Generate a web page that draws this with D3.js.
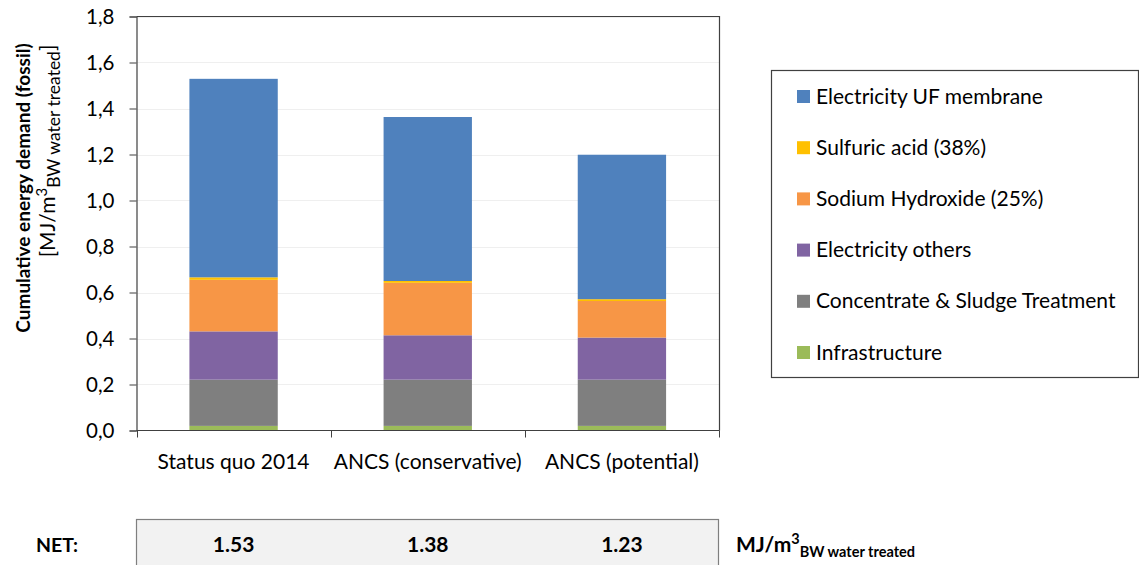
<!DOCTYPE html>
<html>
<head>
<meta charset="utf-8">
<script src="https://cdn.jsdelivr.net/npm/d3@7"></script>
<style>
  html, body { margin: 0; padding: 0; background: #fff; }
  svg { display: block; }
  text { font-family: Lato, "Open Sans", sans-serif; fill: #000; }
</style>
</head>
<body>
<svg id="chart" width="1139" height="565"></svg>
<script>
// ---- data ----
const categories = ["Status quo 2014", "ANCS (conservative)", "ANCS (potential)"];
const seriesNames = ["Infrastructure", "Concentrate & Sludge Treatment", "Electricity others",
                     "Sodium Hydroxide (25%)", "Sulfuric acid (38%)", "Electricity UF membrane"];
const infrastructure   = [0.020, 0.020, 0.020];
const concentrate      = [0.201, 0.201, 0.201];
const electricityOther = [0.210, 0.193, 0.183];
const sodiumHydroxide  = [0.224, 0.228, 0.159];
const sulfuricAcid     = [0.011, 0.008, 0.008];
const electricityUF    = [0.863, 0.713, 0.628];
const netValues = ["1.53", "1.38", "1.23"];
const yTicks = [0, 0.2, 0.4, 0.6, 0.8, 1.0, 1.2, 1.4, 1.6, 1.8];
const colors = ["#9BBB59", "#7F7F7F", "#8064A2", "#F79646", "#FFC000", "#4F81BD"];

const seriesValues = [infrastructure, concentrate, electricityOther, sodiumHydroxide, sulfuricAcid, electricityUF];
const table = categories.map((c, i) => {
  const row = { category: c };
  seriesNames.forEach((s, j) => row[s] = seriesValues[j][i]);
  return row;
});

const svg = d3.select("#chart");
const x = d3.scaleBand().domain(categories).range([136.5, 719]).paddingInner(0.545).paddingOuter(0.2725);
const xSlot = d3.scaleBand().domain(categories).range([136.5, 719]);
const y = d3.scaleLinear().domain([0, 1.8]).range([430.5, 16.5]);
const fmt = d3.formatLocale({ decimal: ",", thousands: ".", grouping: [3], currency: ["", ""] }).format(".1f");

// gridlines
svg.append("g").selectAll("line").data(yTicks.slice(1)).join("line")
  .attr("x1", 136.5).attr("x2", 719).attr("y1", d => Math.round(y(d)) + 0.5).attr("y2", d => Math.round(y(d)) + 0.5)
  .attr("stroke", "#efefef").attr("stroke-width", 1);

// bars
const stack = d3.stack().keys(seriesNames)(table);
svg.append("g").selectAll("g").data(stack).join("g")
  .attr("fill", (d, i) => colors[i])
  .selectAll("rect").data(d => d).join("rect")
  .attr("x", d => x(d.data.category))
  .attr("width", x.bandwidth())
  .attr("y", d => y(d[1]))
  .attr("height", d => y(d[0]) - y(d[1]));

// plot border (top & right)
svg.append("path").attr("d", `M136.5,16.5H719.5V430.5`).attr("fill", "none").attr("stroke", "#404040").attr("stroke-width", 1.2);

// y axis
const yAxis = svg.append("g").attr("transform", "translate(136.5,0)")
  .call(d3.axisLeft(y).tickValues(yTicks).tickFormat(fmt).tickSize(7).tickPadding(15));
yAxis.select(".domain").attr("stroke", "#404040").attr("stroke-width", 1.2);
yAxis.selectAll(".tick line").attr("stroke", "#404040");
yAxis.selectAll(".tick text").style("font-family", "Lato").style("font-size", "20.5px").attr("fill", "#000");

// x axis: ticks at slot boundaries
const xAxisG = svg.append("g");
xAxisG.append("line").attr("x1", 136.5).attr("x2", 719.5).attr("y1", 430.5).attr("y2", 430.5)
  .attr("stroke", "#404040").attr("stroke-width", 1.2);
const boundaries = categories.map(c => xSlot(c)).concat([xSlot.range()[1]]);
xAxisG.selectAll("line.tk").data(boundaries).join("line").attr("class", "tk")
  .attr("x1", d => Math.round(d) + 0.5).attr("x2", d => Math.round(d) + 0.5)
  .attr("y1", 430.5).attr("y2", 437.5).attr("stroke", "#404040");
xAxisG.selectAll("text").data(categories).join("text")
  .attr("x", d => xSlot(d) + xSlot.bandwidth() / 2).attr("y", 469)
  .attr("text-anchor", "middle").style("font-size", "21px").text(d => d);

// y title
const yt = svg.append("g").attr("transform", "translate(22,188) rotate(-90)");
yt.append("text").attr("text-anchor", "middle").attr("dominant-baseline", "central")
  .style("font-size", "19px").style("font-weight", "bold").text("Cumulative energy demand (fossil)");
const yt2 = svg.append("g").attr("transform", "translate(55,151) rotate(-90)");
const t2 = yt2.append("text").attr("text-anchor", "middle").style("font-size", "21px");
t2.append("tspan").text("[MJ/m");
t2.append("tspan").attr("dy", -8).style("font-size", "15px").text("3");
t2.append("tspan").attr("dy", 13).style("font-size", "17.5px").text("BW water treated");
t2.append("tspan").attr("dy", -5).text("]");

// legend
const legend = svg.append("g");
legend.append("rect").attr("x", 771.5).attr("y", 70.5).attr("width", 367).attr("height", 307)
  .attr("fill", "#fff").attr("stroke", "#404040").attr("stroke-width", 1.2);
const legendOrder = seriesNames.map((s, i) => ({ name: s, color: colors[i] })).reverse();
const li = legend.selectAll("g.item").data(legendOrder).join("g").attr("class", "item")
  .attr("transform", (d, i) => `translate(797,${90 + i * 51.2})`);
li.append("rect").attr("width", 13).attr("height", 13).attr("fill", d => d.color);
li.append("text").attr("x", 19).attr("y", 13.5).style("font-size", "21px").text(d => d.name);

// NET table
const tbl = svg.append("g");
tbl.append("rect").attr("x", 136.5).attr("y", 519.5).attr("width", 582).attr("height", 60)
  .attr("fill", "#f2f2f2").attr("stroke", "#7f7f7f").attr("stroke-width", 1.2);
tbl.append("text").attr("x", 36).attr("y", 552).style("font-size", "19.5px").style("font-weight", "bold").text("NET:");
tbl.selectAll("text.v").data(categories).join("text").attr("class", "v")
  .attr("x", d => xSlot(d) + xSlot.bandwidth() / 2).attr("y", 552).attr("text-anchor", "middle")
  .style("font-size", "21px").style("font-weight", "bold").text((d, i) => netValues[i]);
const u = tbl.append("text").attr("x", 736).attr("y", 552).style("font-size", "21px").style("font-weight", "bold");
u.append("tspan").text("MJ/m");
u.append("tspan").attr("dy", -8).style("font-size", "14.5px").text("3");
u.append("tspan").attr("dy", 13).style("font-size", "14.5px").text("BW water treated");
</script>
</body>
</html>
